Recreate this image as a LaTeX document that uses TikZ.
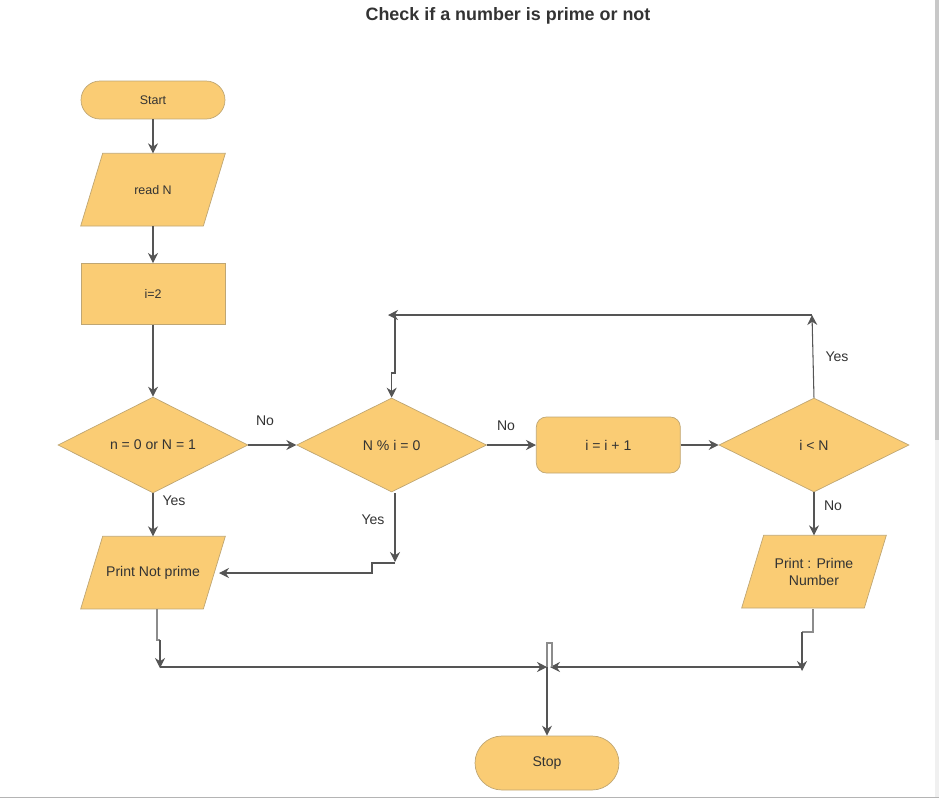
\documentclass[tikz,border=0pt]{standalone}
\usepackage{fontspec}
\setmainfont{Liberation Sans}
\usetikzlibrary{shapes.geometric,positioning,arrows.meta,backgrounds}
\definecolor{boxfill}{HTML}{FACC74}
\definecolor{boxline}{HTML}{BFA673}
\definecolor{lineclr}{HTML}{555555}
\definecolor{stubclr}{HTML}{8C8C8C}
\definecolor{txtclr}{HTML}{333333}
% slanted box behind an io node
\newcommand\ioshape[1]{%
  \filldraw [draw=boxline, fill=boxfill]
    ([xshift=-0.22cm]#1.south west) -- ([xshift=-0.22cm]#1.south east)
    -- ([xshift=0.22cm]#1.north east) -- ([xshift=0.22cm]#1.north west) -- cycle;}
\begin{document}
\begin{tikzpicture}[
    x=0.02cm, y=-0.02cm,
    every node/.style={text=txtclr, font=\fontsize{8}{9.5}\selectfont},
    small/.style={font=\fontsize{7.1}{8.5}\selectfont},
    term/.style={rectangle, rounded corners=0.38cm, draw=boxline, fill=boxfill, minimum width=2.88cm, minimum height=0.76cm},
    proc/.style={rectangle, draw=boxline, fill=boxfill, minimum width=2.88cm, minimum height=1.22cm},
    io/.style={rectangle, minimum width=2.44cm, minimum height=1.44cm, inner sep=1pt, align=center},
    decision/.style={diamond, draw=boxline, fill=boxfill, minimum width=3.8cm, minimum height=1.88cm, inner sep=0pt},
    arrow/.style={line width=0.6pt, draw=lineclr, ->, >={Stealth[length=2mm,width=2mm]}},
    stub/.style={line width=0.6pt, draw=stubclr}
]
    \useasboundingbox (0,0) rectangle (939,798);
    % Scroll bar
    \fill [color={rgb,255:red,200;green,200;blue,200}] (935,0) rectangle (939,440);
    \fill [color={rgb,255:red,240;green,240;blue,240}] (935,440) rectangle (939,798);
    \draw [color={rgb,255:red,180;green,180;blue,180}] (0,797) -- (939,797);

    % Title
    \node (title) at (508,16) [font=\fontsize{10.2}{12}\selectfont\bfseries] {Check if a number is prime or not};

    % Left column
    \node (start) at (153,100) [term, small] {Start};
    \node (readn) [io, small, below=0.68cm of start] {read N};
    \node (init) [proc, small, below=0.74cm of readn] {i=2};
    \node (d1) [decision, below=1.44cm of init] {n = 0 or N = 1};
    \node (pnp) [io, below=0.86cm of d1] {Print Not prime};

    % Loop
    \node (d2) [decision, right=0.96cm of d1] {N \% i = 0};
    \node (inc) [term, rounded corners=0.2cm, minimum height=1.12cm, right=0.98cm of d2] {i = i + 1};
    \node (d3) [decision, right=0.76cm of inc] {i < N};
    \node (pp) [io, below=0.86cm of d3] {Print : Prime\\Number};

    % End
    \node (stop) at (547,763) [term, rounded corners=0.54cm, minimum height=1.08cm] {Stop};

    % Slanted boxes
    \begin{scope}[on background layer]
        \ioshape{readn}
        \ioshape{pnp}
        \ioshape{pp}
    \end{scope}

    % Labels
    \node (no1) at (265,421) {No};
    \node (yes1) at (174,501) {Yes};
    \node (no2) at (506,426) {No};
    \node (yes2) at (373,520) {Yes};
    \node (yes3) at (837,357) {Yes};
    \node (no3) at (833,506) {No};

    % Bend points
    \coordinate (loopR) at (812,315);
    \coordinate (loopL) at (388,315);
    \coordinate (pnpIn) at (219,573);
    \coordinate (join) at (547,667);

    % Flow
    \draw [arrow] (start) -- (readn);
    \draw [arrow] (readn) -- (init);
    \draw [arrow] (init) -- (d1);
    \draw [arrow] (d1.east) -- (d2.west);
    \draw [arrow] (d1.south) -- (pnp.north);
    \draw [arrow] (d2.east) -- (inc.west);
    \draw [arrow] (inc.east) -- (d3.west);
    \draw [arrow] (d3.south) -- (pp.north);

    % Back to N % i
    \draw [arrow] (d3.north) -- (loopR);
    \draw [arrow] (loopR) -- (loopL);
    \draw [arrow] (395,315) -- (395,373) -- (d2.north |- 0,373) -- (d2.north);

    % Yes of N % i
    \draw [arrow] (395,493) -- (395,562);
    \draw [arrow] (395,563) -- (372,563) -- (372,573) -- (pnpIn);

    % Into Stop
    \draw [stub] (157,609) -- (157,640) -- (160,640);
    \draw [arrow] (160,640) -- (160,668);
    \draw [stub] (813,609) -- (813,632) -- (802,632);
    \draw [arrow] (802,632) -- (802,671);
    \draw [arrow] (160,667) -- (join);
    \draw [arrow] (802,667) -- (550,667);
    \draw [stub] (552,667) -- (552,643) -- (547,643) -- (join);
    \draw [arrow] (join) -- (stop);
\end{tikzpicture}
\end{document}
